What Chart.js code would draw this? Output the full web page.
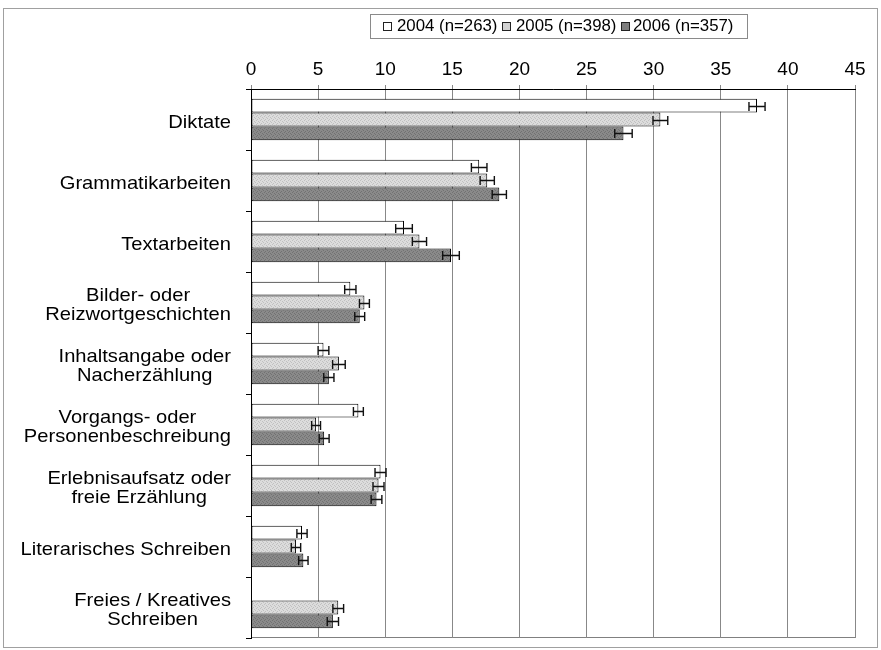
<!DOCTYPE html>
<html>
<head>
<meta charset="utf-8">
<script src="https://cdn.jsdelivr.net/npm/chart.js@4.4.0/dist/chart.umd.min.js"></script>
<style>
  html, body { margin: 0; padding: 0; background: #fff; }
</style>
</head>
<body>
<canvas id="chart" width="881" height="650"></canvas>
<script>
// Kategorien (mehrzeilige Beschriftungen als Arrays)
const kategorien = [
  ['Diktate'],
  ['Grammatikarbeiten'],
  ['Textarbeiten'],
  ['Bilder- oder', 'Reizwortgeschichten'],
  ['Inhaltsangabe oder', 'Nacherzählung'],
  ['Vorgangs- oder', 'Personenbeschreibung'],
  ['Erlebnisaufsatz oder', 'freie Erzählung'],
  ['Literarisches Schreiben'],
  ['Freies / Kreatives', 'Schreiben'],
];
const jahre = ['2004 (n=263)', '2005 (n=398)', '2006 (n=357)'];

const werte2004 = [37.7, 17.0, 11.4, 7.4, 5.4, 8.0, 9.65, 3.8, null];
const werte2005 = [30.5, 17.6, 12.55, 8.45, 6.55, 4.85, 9.5, 3.35, 6.5];
const werte2006 = [27.75, 18.5, 14.9, 8.1, 5.8, 5.45, 9.35, 3.9, 6.1];

const fehler2004 = [0.6, 0.58, 0.62, 0.42, 0.4, 0.37, 0.41, 0.38, null];
const fehler2005 = [0.55, 0.53, 0.53, 0.37, 0.47, 0.33, 0.41, 0.35, 0.4];
const fehler2006 = [0.65, 0.53, 0.62, 0.37, 0.38, 0.37, 0.4, 0.35, 0.42];

const xMin = 0;
const xMax = 45;
const xSchritt = 5;

const FONT = "'Liberation Sans', Arial, sans-serif";

// kleines Raster-Muster fuer die grauen Balken
const muster = (grund, punkt) => {
  const c = document.createElement('canvas');
  c.width = 4; c.height = 4;
  const g = c.getContext('2d');
  g.fillStyle = grund;
  g.fillRect(0, 0, 4, 4);
  g.fillStyle = punkt;
  g.fillRect(0, 0, 1, 1);
  g.fillRect(2, 1, 1, 1);
  g.fillRect(1, 3, 1, 1);
  g.fillRect(3, 2, 1, 1);
  return g.createPattern(c, 'repeat');
};

const farben = ['#ffffff', muster('#dcdcdc', '#c0c0c0'), muster('#8a8a8a', '#727272')];
const legendeFarben = ['#ffffff', '#d2d2d2', '#7e7e7e'];

const datasets = [
  { label: jahre[0], data: werte2004, fehler: fehler2004 },
  { label: jahre[1], data: werte2005, fehler: fehler2005 },
  { label: jahre[2], data: werte2006, fehler: fehler2006 },
].map((d, i) => ({
  ...d,
  backgroundColor: farben[i],
  borderColor: '#000',
  borderWidth: 1,
  borderSkipped: false,
  categoryPercentage: 0.68,
  barPercentage: 1.0,
}));

const rahmenPlugin = {
  id: 'rahmen',
  beforeDraw(chart) {
    const { ctx, chartArea: a } = chart;
    ctx.save();
    ctx.fillStyle = '#fff';
    ctx.fillRect(0, 0, chart.width, chart.height);
    ctx.strokeStyle = '#a0a0a0';
    ctx.lineWidth = 1;
    ctx.strokeRect(3.5, 8.5, 874, 639);
    ctx.strokeStyle = '#808080';
    ctx.strokeRect(a.left + 0.5, a.top + 0.5, a.right - a.left, a.bottom - a.top - 1);
    ctx.restore();
  },
};

const fehlerPlugin = {
  id: 'fehlerbalken',
  afterDatasetsDraw(chart) {
    const { ctx } = chart;
    const xs = chart.scales.x;
    ctx.save();
    ctx.strokeStyle = '#111';
    ctx.lineWidth = 1.4;
    chart.data.datasets.forEach((ds, di) => {
      chart.getDatasetMeta(di).data.forEach((bar, i) => {
        const v = ds.data[i];
        const e = ds.fehler[i];
        if (v == null || e == null) return;
        const x1 = xs.getPixelForValue(v - e);
        const x2 = xs.getPixelForValue(v + e);
        const y = Math.round(bar.y) + 0.5;
        ctx.beginPath();
        ctx.moveTo(x1, y); ctx.lineTo(x2, y);
        ctx.moveTo(x1, y - 4.5); ctx.lineTo(x1, y + 4.5);
        ctx.moveTo(x2, y - 4.5); ctx.lineTo(x2, y + 4.5);
        ctx.stroke();
      });
    });
    ctx.restore();
  },
};

const beschriftungPlugin = {
  id: 'beschriftung',
  afterDraw(chart) {
    const { ctx } = chart;
    const ys = chart.scales.y;
    const sx = 1.06;
    const zeile = 19.5;
    ctx.save();
    ctx.fillStyle = '#000';
    ctx.font = '19px ' + FONT;
    ctx.textAlign = 'center';
    ctx.textBaseline = 'middle';
    kategorien.forEach((lines, i) => {
      const y = ys.getPixelForValue(i) + 3;
      const breit = Math.max(...lines.map(l => ctx.measureText(l).width)) * sx;
      const cx = 231 - breit / 2;
      lines.forEach((l, j) => {
        const ly = y + (j - (lines.length - 1) / 2) * zeile;
        ctx.save();
        ctx.translate(cx, ly);
        ctx.scale(sx, 1);
        ctx.fillText(l, 0, 0);
        ctx.restore();
      });
    });

    // Legende
    ctx.strokeStyle = '#8a8a8a';
    ctx.lineWidth = 1;
    ctx.strokeRect(370.5, 14.5, 377, 24);
    const kx = [383, 502, 621];
    const tx = [397, 516, 633];
    ctx.font = '16px ' + FONT;
    ctx.textAlign = 'left';
    jahre.forEach((t, i) => {
      ctx.fillStyle = legendeFarben[i];
      ctx.fillRect(kx[i] + 0.5, 22.5, 8, 8);
      ctx.strokeStyle = '#222';
      ctx.strokeRect(kx[i] + 0.5, 22.5, 8, 8);
      ctx.fillStyle = '#000';
      ctx.save();
      ctx.translate(tx[i], 27);
      ctx.scale(1.05, 1);
      ctx.fillText(t, 0, 0);
      ctx.restore();
    });
    ctx.restore();
  },
};

new Chart(document.getElementById('chart'), {
  type: 'bar',
  data: { labels: kategorien, datasets },
  options: {
    indexAxis: 'y',
    responsive: false,
    animation: false,
    devicePixelRatio: 1,
    layout: { padding: { left: 0, top: 0, right: 26, bottom: 12 } },
    plugins: {
      legend: { display: false },
      tooltip: { enabled: false },
    },
    scales: {
      x: {
        position: 'top',
        min: xMin,
        max: xMax,
        ticks: {
          stepSize: xSchritt,
          color: '#000',
          padding: 4,
          font: { size: 19, family: FONT },
        },
        grid: { color: '#888', tickLength: 4, lineWidth: 1 },
        border: { color: '#000', width: 1 },
        afterFit: (s) => { s.height = 89; },
      },
      y: {
        ticks: { display: false },
        grid: { offset: true, drawOnChartArea: false, tickLength: 5, color: '#000' },
        border: { color: '#000', width: 1 },
        afterFit: (s) => { s.width = 251; },
      },
    },
  },
  plugins: [rahmenPlugin, fehlerPlugin, beschriftungPlugin],
});
</script>
</body>
</html>
